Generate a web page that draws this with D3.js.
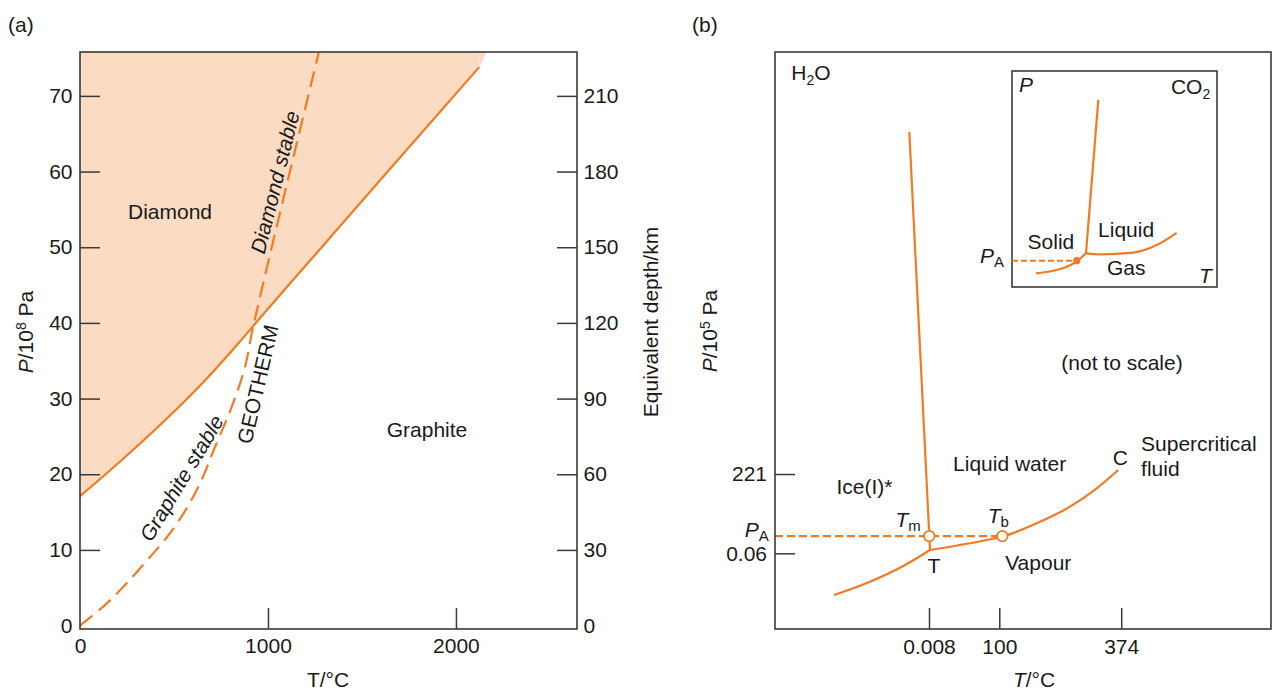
<!DOCTYPE html>
<html><head><meta charset="utf-8">
<script src="https://cdn.jsdelivr.net/npm/d3@7"></script>
<style>
body{margin:0;background:#fff}
text{font-family:"Liberation Sans",Arial,Helvetica,sans-serif;fill:#1a1a1a;font-size:21px}
</style>
</head><body>
<svg id="c" width="1273" height="693"></svg>
<script>
// ---------- Panel (a) data : T (°C), P (10^8 Pa) ----------
const boundaryT = [0, 150, 330, 505, 680, 850, 922, 1300, 1700, 2124];
const boundaryP = [17.1, 20.3, 24.3, 28.4, 32.8, 37.5, 39.6, 50.4, 61.8, 73.8];
const fillTopT = 2160;                       // shaded field meets the top edge here
const geoLowT = [0, 150, 328, 505, 629, 718, 807, 878, 922];
const geoLowP = [0, 3.1, 7.8, 13.1, 18.3, 23.6, 28.9, 34.2, 39.6];
const geoHighT = [922, 1271];
const geoHighP = [39.6, 75.8];
const aXTicks = [0, 1000, 2000];
const aYTicks = [0, 10, 20, 30, 40, 50, 60, 70];
const aDepthTicks = [0, 30, 60, 90, 120, 150, 180, 210];

// ---------- Panel (b) data : schematic (not to scale) units ----------
const meltX = [27.08, 31.25];
const meltY = [86.19, 13.69];
const sublX = [11.9, 19.15, 25.87, 31.25];
const sublY = [5.89, 8.2, 10.92, 13.69];
const vapX = [31.25, 37.3, 42.68, 45.83, 52.76, 59.48, 64.86, 69.21];
const vapY = [13.69, 14.56, 15.42, 16.0, 18.32, 21.2, 24.38, 27.56];
const pA = 16.1;
const tmX = 31.1, tbX = 45.83;
const bXTickPos = [31.05, 45.22, 69.8];
const bXTickLab = ["0.008", "100", "374"];
const bYTickPos = [26.86, 13.12];
const bYTickLab = ["221", "0.06"];

// ---------- Inset (CO2) ----------
const coMeltX = [42.1, 36.1];
const coMeltY = [86.6, 15.6];
const coVapX = [36.1, 42.9, 59.2, 70.6, 80.3];
const coVapY = [15.6, 15.1, 15.9, 19.4, 25.1];
const coSubX = [11.7, 20.1, 26.7, 31.6, 36.1];
const coSubY = [6.3, 7.5, 9.4, 11.9, 15.6];
const coDot = [31.6, 12.2];

const ORANGE = "#f27a22", FILL = "#fbdcc3", FRAME = "#3a3a3a";
const svg = d3.select("#c");

// ================= Panel (a) =================
const ax = d3.scaleLinear().domain([0, 2644]).range([80, 577]);
const ay = d3.scaleLinear().domain([-0.45, 75.8]).range([629, 52]);
const ad = d3.scaleLinear().domain([-1.35, 227.4]).range([629, 52]);
const ga = svg.append("g");

const bData = boundaryT.map((t, i) => [t, boundaryP[i]]);
ga.append("path").datum(bData)
  .attr("d", d3.area().x(d => ax(d[0])).y0(ay(75.8)).y1(d => ay(d[1])).curve(d3.curveMonotoneX))
  .attr("fill", FILL);
const last = bData[bData.length - 1];
ga.append("path").datum([last, [fillTopT, 75.8], [last[0], 75.8]])
  .attr("d", d3.line().x(d => ax(d[0])).y(d => ay(d[1])))
  .attr("fill", FILL).attr("stroke", FILL).attr("stroke-width", 0.8);

ga.append("path").datum(bData)
  .attr("d", d3.line().x(d => ax(d[0])).y(d => ay(d[1])).curve(d3.curveMonotoneX))
  .attr("fill", "none").attr("stroke", ORANGE).attr("stroke-width", 2.2);

const geoLow = geoLowT.map((t, i) => [t, geoLowP[i]]);
const geoHigh = geoHighT.map((t, i) => [t, geoHighP[i]]);
ga.append("path").datum(geoLow.concat(geoHigh.slice(1)))
  .attr("d", d3.line().x(d => ax(d[0])).y(d => ay(d[1])).curve(d3.curveCatmullRom.alpha(0.5)))
  .attr("fill", "none").attr("stroke", ORANGE).attr("stroke-width", 2.2)
  .attr("stroke-dasharray", "16,8");

function styleAxis(g) {
  g.select(".domain").remove();
  g.selectAll(".tick").filter(d => d === 0).select("line").remove();
  g.selectAll(".tick line").attr("stroke", FRAME).attr("stroke-width", 1.5);
  g.selectAll(".tick text").attr("font-size", 21).attr("fill", "#1a1a1a")
    .attr("font-family", '"Liberation Sans",Arial,sans-serif');
}
ga.append("g").attr("transform", "translate(80,0)")
  .call(d3.axisLeft(ay).tickValues(aYTicks).tickSize(-20).tickPadding(7.5).tickFormat(d3.format("d")))
  .call(styleAxis);
ga.append("g").attr("transform", "translate(577,0)")
  .call(d3.axisRight(ad).tickValues(aDepthTicks).tickSize(-20).tickPadding(6.5).tickFormat(d3.format("d")))
  .call(styleAxis);
ga.append("g").attr("transform", "translate(0,629)")
  .call(d3.axisBottom(ax).tickValues(aXTicks).tickSize(-21).tickPadding(9.3).tickFormat(d3.format("d")))
  .call(styleAxis);

ga.append("rect").attr("x", 80).attr("y", 52).attr("width", 497).attr("height", 577)
  .attr("fill", "none").attr("stroke", FRAME).attr("stroke-width", 1.6);

ga.append("text").attr("x", 8).attr("y", 32).text("(a)");
ga.append("text").attr("x", ax(479)).attr("y", ay(53.7)).attr("text-anchor", "middle").text("Diamond");
ga.append("text").attr("x", ax(1846)).attr("y", ay(24.9)).attr("text-anchor", "middle").text("Graphite");
function rotText(g, x, y, ang, str, italic) {
  g.append("text").attr("transform", `translate(${x},${y}) rotate(${ang})`)
    .attr("text-anchor", "middle").attr("dominant-baseline", "central")
    .attr("font-style", italic ? "italic" : "normal").text(str);
}
rotText(ga, ax(1037), ay(58.6), -76, "Diamond stable", true);
rotText(ga, ax(945), ay(31.9), -77, "GEOTHERM", false);
rotText(ga, ax(540), ay(19.5), -59, "Graphite stable", true);

ga.append("text").attr("x", 328).attr("y", 687).attr("text-anchor", "middle").text("T/°C");
const yl = ga.append("text").attr("transform", "translate(33,332) rotate(-90)").attr("text-anchor", "middle");
yl.append("tspan").attr("font-style", "italic").text("P");
yl.append("tspan").text("/10");
yl.append("tspan").attr("font-size", 14).attr("dy", -7).text("8");
yl.append("tspan").attr("dy", 7).text(" Pa");
ga.append("text").attr("transform", "translate(658,322) rotate(-90)").attr("text-anchor", "middle")
  .text("Equivalent depth/km");

// ================= Panel (b) =================
const bx = d3.scaleLinear().domain([0, 100]).range([775, 1271]);
const by = d3.scaleLinear().domain([0, 100]).range([629, 52]);
const gb = svg.append("g");
const lineB = d3.line().x(d => bx(d[0])).y(d => by(d[1]));

gb.append("path").datum([[0, pA], [tbX, pA]]).attr("d", lineB)
  .attr("fill", "none").attr("stroke", ORANGE).attr("stroke-width", 2.2).attr("stroke-dasharray", "8,4");
gb.append("path").datum(meltX.map((v, i) => [v, meltY[i]])).attr("d", lineB)
  .attr("fill", "none").attr("stroke", ORANGE).attr("stroke-width", 2.2);
gb.append("path").datum(sublX.map((v, i) => [v, sublY[i]])).attr("d", lineB.curve(d3.curveMonotoneX))
  .attr("fill", "none").attr("stroke", ORANGE).attr("stroke-width", 2.2);
gb.append("path").datum(vapX.map((v, i) => [v, vapY[i]])).attr("d", lineB.curve(d3.curveMonotoneX))
  .attr("fill", "none").attr("stroke", ORANGE).attr("stroke-width", 2.2);
gb.selectAll("circle.pt").data([tmX, tbX]).join("circle").attr("class", "pt")
  .attr("cx", d => bx(d)).attr("cy", by(pA)).attr("r", 5.3)
  .attr("fill", "#fff").attr("stroke", ORANGE).attr("stroke-width", 1.8);

gb.append("g").attr("transform", "translate(775,0)")
  .call(d3.axisLeft(by).tickValues(bYTickPos).tickSize(-20).tickPadding(8)
    .tickFormat((d, i) => bYTickLab[i]))
  .call(styleAxis);
gb.append("g").attr("transform", "translate(0,629)")
  .call(d3.axisBottom(bx).tickValues(bXTickPos).tickSize(-21).tickPadding(10)
    .tickFormat((d, i) => bXTickLab[i]))
  .call(styleAxis);
gb.append("rect").attr("x", 775).attr("y", 52).attr("width", 496).attr("height", 577)
  .attr("fill", "none").attr("stroke", FRAME).attr("stroke-width", 1.6);

function subText(g, x, y, main, sub, italic, anchor) {
  const t = g.append("text").attr("x", x).attr("y", y).attr("text-anchor", anchor || "start");
  t.append("tspan").attr("font-style", italic ? "italic" : "normal").text(main);
  t.append("tspan").attr("font-size", 15).attr("dy", 4).text(sub);
  return t;
}
gb.append("text").attr("x", 692).attr("y", 32).text("(b)");
const h2o = gb.append("text").attr("x", bx(3.3)).attr("y", by(95.1));
h2o.append("tspan").text("H");
h2o.append("tspan").attr("font-size", 14).attr("dy", 5).text("2");
h2o.append("tspan").attr("dy", -5).text("O");
gb.append("text").attr("x", bx(69.96)).attr("y", by(44.9)).attr("text-anchor", "middle").text("(not to scale)");
gb.append("text").attr("x", bx(73.8)).attr("y", by(30.85)).text("Supercritical");
gb.append("text").attr("x", bx(73.8)).attr("y", by(26.5)).text("fluid");
gb.append("text").attr("x", bx(68.1)).attr("y", by(28.4)).text("C");
gb.append("text").attr("x", bx(35.9)).attr("y", by(27.3)).text("Liquid water");
gb.append("text").attr("x", bx(12.4)).attr("y", by(23.4)).text("Ice(I)*");
subText(gb, bx(24.3), by(17.7), "T", "m", true);
subText(gb, bx(42.9), by(18.3), "T", "b", true);
gb.append("text").attr("x", bx(32.06)).attr("y", by(9.65)).attr("text-anchor", "middle").text("T");
gb.append("text").attr("x", bx(46.4)).attr("y", by(10.2)).text("Vapour");
subText(gb, bx(-6.1), by(16.0), "P", "A", true);

const xt = gb.append("text").attr("x", 1034).attr("y", 687).attr("text-anchor", "middle");
xt.append("tspan").attr("font-style", "italic").text("T");
xt.append("tspan").text("/°C");
const yb = gb.append("text").attr("transform", "translate(717,331) rotate(-90)").attr("text-anchor", "middle");
yb.append("tspan").attr("font-style", "italic").text("P");
yb.append("tspan").text("/10");
yb.append("tspan").attr("font-size", 14).attr("dy", -7).text("5");
yb.append("tspan").attr("dy", 7).text(" Pa");

// ================= Inset (CO2) =================
const ix = d3.scaleLinear().domain([0, 100]).range([1012, 1217]);
const iy = d3.scaleLinear().domain([0, 100]).range([287, 71]);
const gi = svg.append("g");
const lineI = d3.line().x(d => ix(d[0])).y(d => iy(d[1]));
gi.append("rect").attr("x", 1012).attr("y", 71).attr("width", 205).attr("height", 216)
  .attr("fill", "#fff").attr("stroke", FRAME).attr("stroke-width", 1.6);
gi.append("path").datum([[0, coDot[1]], coDot]).attr("d", lineI)
  .attr("fill", "none").attr("stroke", ORANGE).attr("stroke-width", 2).attr("stroke-dasharray", "6,3");
gi.append("path").datum(coMeltX.map((v, i) => [v, coMeltY[i]])).attr("d", lineI)
  .attr("fill", "none").attr("stroke", ORANGE).attr("stroke-width", 2.2);
gi.append("path").datum(coVapX.map((v, i) => [v, coVapY[i]])).attr("d", lineI.curve(d3.curveMonotoneX))
  .attr("fill", "none").attr("stroke", ORANGE).attr("stroke-width", 2.2);
gi.append("path").datum(coSubX.map((v, i) => [v, coSubY[i]])).attr("d", lineI.curve(d3.curveMonotoneX))
  .attr("fill", "none").attr("stroke", ORANGE).attr("stroke-width", 2.2);
gi.append("circle").attr("cx", ix(coDot[0])).attr("cy", iy(coDot[1])).attr("r", 3.6).attr("fill", ORANGE);

gi.append("text").attr("x", ix(3.4)).attr("y", iy(90.3)).attr("font-style", "italic").text("P");
const co2 = gi.append("text").attr("x", ix(77.5)).attr("y", iy(89.4));
co2.append("tspan").text("CO");
co2.append("tspan").attr("font-size", 14).attr("dy", 5).text("2");
gi.append("text").attr("x", ix(19.0)).attr("y", iy(17.6)).attr("text-anchor", "middle").text("Solid");
gi.append("text").attr("x", ix(42.0)).attr("y", iy(23.1)).text("Liquid");
gi.append("text").attr("x", ix(46.3)).attr("y", iy(5.6)).text("Gas");
gi.append("text").attr("x", ix(91.2)).attr("y", iy(1.9)).attr("font-style", "italic").text("T");
subText(gi, ix(-15.6), iy(11.0), "P", "A", true);
</script>
</body></html>
